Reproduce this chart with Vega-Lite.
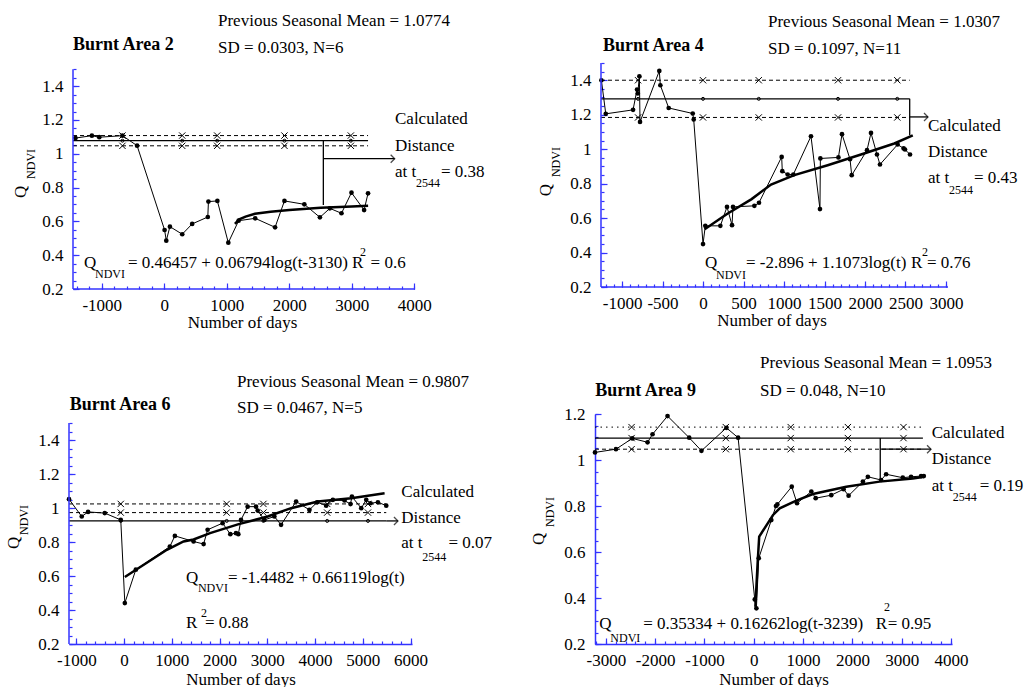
{
"$schema": "https://vega.github.io/schema/vega-lite/v6.json",
"padding": {"left": 4, "top": 11, "right": 0, "bottom": 0},
"config": {
 "view": {"stroke": null},
 "font": "Liberation Serif",
 "axis": {"labelFont": "Liberation Serif", "labelFontSize": 17, "labelColor": "#000", "titleFont": "Liberation Serif", "titleFontSize": 17, "titleFontWeight": "normal", "titleColor": "#000", "domainColor": "#3333ff", "tickColor": "#3333ff", "domainWidth": 1.5, "tickWidth": 1.2, "grid": false, "labelFlush": false, "labelOverlap": false},
 "text": {"font": "Liberation Serif", "fontSize": 17, "color": "#000"}
},
"datasets": {
 "p1obs": [{"t":-1420,"q":1.093},{"t":-1158,"q":1.107},{"t":-1040,"q":1.098},{"t":-669,"q":1.107},{"t":-435,"q":1.048},{"t":5,"q":0.549},{"t":32,"q":0.486},{"t":90,"q":0.569},{"t":287,"q":0.524},{"t":446,"q":0.585},{"t":696,"q":0.626},{"t":706,"q":0.717},{"t":849,"q":0.721},{"t":1024,"q":0.474},{"t":1189,"q":0.604},{"t":1454,"q":0.618},{"t":1772,"q":0.565},{"t":1922,"q":0.721},{"t":2240,"q":0.701},{"t":2489,"q":0.624},{"t":2648,"q":0.677},{"t":2834,"q":0.648},{"t":2994,"q":0.770},{"t":3196,"q":0.667},{"t":3259,"q":0.766}],
 "p1fit": [{"t":1130,"q":0.585},{"t":1200,"q":0.612},{"t":1300,"q":0.628},{"t":1450,"q":0.645},{"t":1700,"q":0.657},{"t":2000,"q":0.667},{"t":2500,"q":0.680},{"t":3000,"q":0.688},{"t":3260,"q":0.692}],
 "p1ref": [{"kind":"upper","t0":-1460,"t1":3259,"q0":1.1077,"q1":1.1077},{"kind":"mean","t0":-1460,"t1":3259,"q0":1.0774,"q1":1.0774},{"kind":"lower","t0":-1460,"t1":3259,"q0":1.0471,"q1":1.0471},{"kind":"distance","t0":2544,"t1":2544,"q0":1.0774,"q1":0.697},{"kind":"arrow","t0":2544,"t1":3685,"q0":0.971,"q1":0.971}],
 "p1mark": [{"t":-669,"q":1.1077,"kind":"cross"},{"t":-669,"q":1.0471,"kind":"cross"},{"t":-669,"q":1.0774,"kind":"dot"},{"t":287,"q":1.1077,"kind":"cross"},{"t":287,"q":1.0471,"kind":"cross"},{"t":287,"q":1.0774,"kind":"dot"},{"t":846,"q":1.1077,"kind":"cross"},{"t":846,"q":1.0471,"kind":"cross"},{"t":846,"q":1.0774,"kind":"dot"},{"t":1922,"q":1.1077,"kind":"cross"},{"t":1922,"q":1.0471,"kind":"cross"},{"t":1922,"q":1.0774,"kind":"dot"},{"t":2984,"q":1.1077,"kind":"cross"},{"t":2984,"q":1.0471,"kind":"cross"},{"t":2984,"q":1.0774,"kind":"dot"}],
 "p2obs": [{"t":-1255,"q":1.40},{"t":-1201,"q":1.205},{"t":-864,"q":1.228},{"t":-815,"q":1.346},{"t":-806,"q":1.323},{"t":-786,"q":1.423},{"t":-778,"q":1.158},{"t":-540,"q":1.454},{"t":-527,"q":1.371},{"t":-424,"q":1.239},{"t":-127,"q":1.207},{"t":-115,"q":1.172},{"t":0,"q":0.449},{"t":28,"q":0.555},{"t":214,"q":0.555},{"t":296,"q":0.665},{"t":358,"q":0.559},{"t":370,"q":0.665},{"t":634,"q":0.671},{"t":691,"q":0.689},{"t":971,"q":0.955},{"t":979,"q":0.872},{"t":1045,"q":0.853},{"t":1115,"q":0.853},{"t":1333,"q":1.075},{"t":1444,"q":0.652},{"t":1449,"q":0.946},{"t":1672,"q":0.952},{"t":1716,"q":1.087},{"t":1815,"q":0.942},{"t":1836,"q":0.849},{"t":2025,"q":0.994},{"t":2074,"q":1.094},{"t":2148,"q":0.969},{"t":2185,"q":0.911},{"t":2403,"q":1.027},{"t":2477,"q":1.004},{"t":2494,"q":0.998},{"t":2556,"q":0.969}],
 "p2fit": [{"t":20,"q":0.535},{"t":300,"q":0.625},{"t":600,"q":0.71},{"t":840,"q":0.795},{"t":1127,"q":0.849},{"t":1539,"q":0.907},{"t":1951,"q":0.969},{"t":2362,"q":1.033},{"t":2590,"q":1.08}],
 "p2ref": [{"kind":"upper","t0":-1260,"t1":2552,"q0":1.40,"q1":1.40},{"kind":"mean","t0":-1260,"t1":2552,"q0":1.292,"q1":1.292},{"kind":"lower","t0":-1260,"t1":2552,"q0":1.184,"q1":1.184},{"kind":"distance","t0":2552,"t1":2552,"q0":1.292,"q1":1.08},{"kind":"arrow","t0":2552,"t1":2778,"q0":1.187,"q1":1.187}],
 "p2mark": [{"t":-802,"q":1.40,"kind":"cross"},{"t":-802,"q":1.184,"kind":"cross"},{"t":-802,"q":1.292,"kind":"dot"},{"t":0,"q":1.40,"kind":"cross"},{"t":0,"q":1.184,"kind":"cross"},{"t":0,"q":1.292,"kind":"dot"},{"t":688,"q":1.40,"kind":"cross"},{"t":688,"q":1.184,"kind":"cross"},{"t":688,"q":1.292,"kind":"dot"},{"t":1667,"q":1.40,"kind":"cross"},{"t":1667,"q":1.184,"kind":"cross"},{"t":1667,"q":1.292,"kind":"dot"},{"t":2399,"q":1.40,"kind":"cross"},{"t":2399,"q":1.184,"kind":"cross"},{"t":2399,"q":1.292,"kind":"dot"}],
 "p3obs": [{"t":-1154,"q":1.052},{"t":-887,"q":0.95},{"t":-755,"q":0.977},{"t":-405,"q":0.970},{"t":-70,"q":0.930},{"t":15,"q":0.441},{"t":245,"q":0.637},{"t":958,"q":0.773},{"t":1063,"q":0.836},{"t":1455,"q":0.803},{"t":1665,"q":0.788},{"t":1749,"q":0.872},{"t":2063,"q":0.911},{"t":2224,"q":0.846},{"t":2343,"q":0.852},{"t":2392,"q":0.846},{"t":2448,"q":0.930},{"t":2587,"q":1.008},{"t":2763,"q":1.008},{"t":2797,"q":0.985},{"t":2937,"q":0.930},{"t":3147,"q":0.950},{"t":3287,"q":0.901},{"t":3602,"q":1.038},{"t":3881,"q":0.989},{"t":4043,"q":1.034},{"t":4232,"q":1.014},{"t":4372,"q":1.048},{"t":4615,"q":1.044},{"t":4741,"q":1.023},{"t":4771,"q":1.067},{"t":4966,"q":0.999},{"t":5071,"q":1.048},{"t":5160,"q":1.028},{"t":5315,"q":1.034},{"t":5490,"q":1.014}],
 "p3fit": [{"t":15,"q":0.594},{"t":896,"q":0.754},{"t":1245,"q":0.803},{"t":1455,"q":0.815},{"t":1800,"q":0.852},{"t":2400,"q":0.905},{"t":3007,"q":0.95},{"t":3496,"q":0.999},{"t":4056,"q":1.038},{"t":4756,"q":1.058},{"t":5455,"q":1.087}],
 "p3ref": [{"kind":"upper","t0":-1154,"t1":5490,"q0":1.024,"q1":1.024},{"kind":"mean","t0":-1154,"t1":5490,"q0":0.973,"q1":0.973},{"kind":"lower","t0":-1154,"t1":5490,"q0":0.924,"q1":0.924},{"kind":"arrow","t0":5490,"t1":5735,"q0":0.924,"q1":0.924}],
 "p3mark": [{"t":-70,"q":1.024,"kind":"cross"},{"t":-70,"q":0.973,"kind":"cross"},{"t":-70,"q":0.924,"kind":"dot"},{"t":2148,"q":1.024,"kind":"cross"},{"t":2148,"q":0.973,"kind":"cross"},{"t":2148,"q":0.924,"kind":"dot"},{"t":2917,"q":1.024,"kind":"cross"},{"t":2917,"q":0.973,"kind":"cross"},{"t":2917,"q":0.924,"kind":"dot"},{"t":4253,"q":1.024,"kind":"cross"},{"t":4253,"q":0.973,"kind":"cross"},{"t":4253,"q":0.924,"kind":"dot"},{"t":5107,"q":1.024,"kind":"cross"},{"t":5107,"q":0.973,"kind":"cross"},{"t":5107,"q":0.924,"kind":"dot"}],
 "p4obs": [{"t":-3220,"q":1.033},{"t":-2795,"q":1.047},{"t":-2464,"q":1.094},{"t":-2154,"q":1.077},{"t":-2053,"q":1.112},{"t":-1749,"q":1.191},{"t":-1310,"q":1.097},{"t":-1061,"q":1.040},{"t":-555,"q":1.140},{"t":-318,"q":1.097},{"t":20,"q":0.394},{"t":53,"q":0.355},{"t":101,"q":0.573},{"t":356,"q":0.739},{"t":450,"q":0.80},{"t":478,"q":0.807},{"t":770,"q":0.884},{"t":877,"q":0.812},{"t":1167,"q":0.863},{"t":1255,"q":0.834},{"t":1571,"q":0.847},{"t":1822,"q":0.873},{"t":1923,"q":0.845},{"t":2213,"q":0.906},{"t":2314,"q":0.927},{"t":2583,"q":0.913},{"t":2684,"q":0.938},{"t":3022,"q":0.923},{"t":3190,"q":0.927},{"t":3393,"q":0.930},{"t":3448,"q":0.930}],
 "p4fit": [{"t":32,"q":0.362},{"t":80,"q":0.56},{"t":110,"q":0.667},{"t":391,"q":0.761},{"t":526,"q":0.79},{"t":862,"q":0.823},{"t":1200,"q":0.852},{"t":1875,"q":0.884},{"t":2550,"q":0.906},{"t":3225,"q":0.92},{"t":3462,"q":0.927}],
 "p4ref": [{"kind":"upper","t0":-3220,"t1":3430,"q0":1.143,"q1":1.143},{"kind":"mean","t0":-3220,"t1":3430,"q0":1.0953,"q1":1.0953},{"kind":"lower","t0":-3220,"t1":3430,"q0":1.047,"q1":1.047},{"kind":"distance","t0":2565,"t1":2565,"q0":1.0953,"q1":0.920},{"kind":"arrow","t0":2565,"t1":3595,"q0":1.047,"q1":1.047}],
 "p4mark": [{"t":-2478,"q":1.143,"kind":"cross"},{"t":-2478,"q":1.0953,"kind":"cross"},{"t":-2478,"q":1.047,"kind":"cross"},{"t":-567,"q":1.143,"kind":"cross"},{"t":-567,"q":1.0953,"kind":"cross"},{"t":-567,"q":1.047,"kind":"cross"},{"t":749,"q":1.143,"kind":"cross"},{"t":749,"q":1.0953,"kind":"cross"},{"t":749,"q":1.047,"kind":"cross"},{"t":1909,"q":1.143,"kind":"cross"},{"t":1909,"q":1.0953,"kind":"cross"},{"t":1909,"q":1.047,"kind":"cross"},{"t":3036,"q":1.143,"kind":"cross"},{"t":3036,"q":1.0953,"kind":"cross"},{"t":3036,"q":1.047,"kind":"cross"}],
 "one": [{}]
},
"columns": 2,
"spacing": {"row": 125, "column": 180},
"bounds": "flush",
"concat": [
 {
  "width": 346, "height": 226,
  "resolve": {"axis": {"x": "independent", "y": "independent"}},
  "layer": [
  {"layer": [
   {"data": {"name": "p1obs"}, "mark": {"type": "line", "strokeWidth": 1, "color": "#000", "point": {"filled": true, "size": 22, "color": "#000"}},
    "encoding": {
     "x": {"field": "t", "type": "quantitative", "scale": {"domain": [-1524, 4010], "nice": false, "zero": false},
      "axis": {"orient": "bottom", "title": "Number of days", "domain": false, "tickCount": 200, "values": [-1000,0,1000,2000,3000,4000], "labelExpr": "'' + datum.value", "tickSize": -6, "labelPadding": 14, "titlePadding": 1}},
     "y": {"field": "q", "type": "quantitative", "scale": {"domain": [0.2, 1.537], "nice": false, "zero": false},
      "axis": {"orient": "left", "title": null, "domain": false, "offset": -4, "tickCount": 200, "values": [0.2,0.4,0.6,0.8,1,1.2,1.4], "labelExpr": "'' + datum.value", "tickSize": -6, "labelPadding": 16}}
    }},
   {"data": {"name": "p1fit"}, "mark": {"type": "line", "strokeWidth": 2.5, "color": "#000"}, "encoding": {"x": {"field": "t", "type": "quantitative"}, "y": {"field": "q", "type": "quantitative"}}},
   {"data": {"name": "p1ref"}, "transform": [{"filter": "datum.kind == 'upper' || datum.kind == 'lower'"}], "mark": {"type": "rule", "strokeDash": [4, 3], "strokeWidth": 1, "color": "#000"}, "encoding": {"x": {"field": "t0", "type": "quantitative"}, "x2": {"field": "t1"}, "y": {"field": "q0", "type": "quantitative"}, "y2": {"field": "q1"}}},
   {"data": {"name": "p1ref"}, "transform": [{"filter": "datum.kind == 'mean' || datum.kind == 'distance' || datum.kind == 'arrow'"}], "mark": {"type": "rule", "strokeWidth": 1.3, "color": "#000"}, "encoding": {"x": {"field": "t0", "type": "quantitative"}, "x2": {"field": "t1"}, "y": {"field": "q0", "type": "quantitative"}, "y2": {"field": "q1"}}},
   {"data": {"name": "p1ref"}, "transform": [{"filter": "datum.kind == 'arrow'"}], "mark": {"type": "point", "shape": "M-1,-1L0,0L-1,1", "filled": false, "size": 64, "strokeWidth": 1.3, "color": "#000"}, "encoding": {"x": {"field": "t1", "type": "quantitative"}, "y": {"field": "q1", "type": "quantitative"}}},
   {"data": {"name": "p1mark"}, "transform": [{"filter": "datum.kind == 'cross'"}], "mark": {"type": "point", "shape": "M-1,-1L1,1M-1,1L1,-1", "filled": false, "size": 40, "strokeWidth": 1, "color": "#000", "opacity": 1}, "encoding": {"x": {"field": "t", "type": "quantitative"}, "y": {"field": "q", "type": "quantitative"}}},
   {"data": {"name": "p1mark"}, "transform": [{"filter": "datum.kind == 'dot'"}], "mark": {"type": "point", "shape": "circle", "filled": false, "size": 9, "strokeWidth": 1, "color": "#000", "opacity": 1}, "encoding": {"x": {"field": "t", "type": "quantitative"}, "y": {"field": "q", "type": "quantitative"}}},
   {"data": {"name": "one"}, "mark": {"type": "rule", "color": "#3333ff", "strokeWidth": 1.5}, "encoding": {"x": {"datum": -1460}, "y": {"datum": 0.2}, "y2": {"datum": 1.5}}},
   {"data": {"name": "one"}, "mark": {"type": "rule", "color": "#3333ff", "strokeWidth": 1.5}, "encoding": {"x": {"datum": -1460}, "x2": {"datum": 4010}, "y": {"datum": 0.2}}},
   {"data": {"name": "one"}, "mark": {"type": "text", "text": "Burnt Area 2", "align": "left", "baseline": "middle", "fontSize": 18, "fontWeight": "bold"}, "encoding": {"x": {"datum": -1460}, "y": {"datum": 1.644}}},
   {"data": {"name": "one"}, "mark": {"type": "text", "text": "Previous Seasonal Mean = 1.0774", "align": "left", "baseline": "middle"}, "encoding": {"x": {"datum": 859}, "y": {"datum": 1.786}}},
   {"data": {"name": "one"}, "mark": {"type": "text", "text": "SD = 0.0303, N=6", "align": "left", "baseline": "middle"}, "encoding": {"x": {"datum": 859}, "y": {"datum": 1.626}}},
   {"data": {"name": "one"}, "mark": {"type": "text", "text": "Calculated", "align": "left", "baseline": "middle"}, "encoding": {"x": {"datum": 3690}, "y": {"datum": 1.206}}},
   {"data": {"name": "one"}, "mark": {"type": "text", "text": "Distance", "align": "left", "baseline": "middle"}, "encoding": {"x": {"datum": 3690}, "y": {"datum": 1.046}}},
   {"data": {"name": "one"}, "mark": {"type": "text", "text": "at t", "align": "left", "baseline": "middle"}, "encoding": {"x": {"datum": 3690}, "y": {"datum": 0.892}}},
   {"data": {"name": "one"}, "mark": {"type": "text", "text": "2544", "align": "left", "baseline": "middle", "fontSize": 12}, "encoding": {"x": {"datum": 4026}, "y": {"datum": 0.827}}},
   {"data": {"name": "one"}, "mark": {"type": "text", "text": "= 0.38", "align": "left", "baseline": "middle"}, "encoding": {"x": {"datum": 4426}, "y": {"datum": 0.892}}},
   {"data": {"name": "one"}, "mark": {"type": "text", "text": "Q", "align": "left", "baseline": "middle"}, "encoding": {"x": {"datum": -1284}, "y": {"datum": 0.354}}},
   {"data": {"name": "one"}, "mark": {"type": "text", "text": "NDVI", "align": "left", "baseline": "middle", "fontSize": 12}, "encoding": {"x": {"datum": -1108}, "y": {"datum": 0.289}}},
   {"data": {"name": "one"}, "mark": {"type": "text", "text": "= 0.46457 + 0.06794log(t-3130)", "align": "left", "baseline": "middle"}, "encoding": {"x": {"datum": -580}, "y": {"datum": 0.354}}},
   {"data": {"name": "one"}, "mark": {"type": "text", "text": "R", "align": "left", "baseline": "middle"}, "encoding": {"x": {"datum": 3003}, "y": {"datum": 0.354}}},
   {"data": {"name": "one"}, "mark": {"type": "text", "text": "2", "align": "left", "baseline": "middle", "fontSize": 12}, "encoding": {"x": {"datum": 3130}, "y": {"datum": 0.42}}},
   {"data": {"name": "one"}, "mark": {"type": "text", "text": "= 0.6", "align": "left", "baseline": "middle"}, "encoding": {"x": {"datum": 3300}, "y": {"datum": 0.354}}},
   {"data": {"name": "one"}, "mark": {"type": "text", "text": "Q", "align": "center", "baseline": "middle", "angle": 270}, "encoding": {"x": {"datum": -2292}, "y": {"datum": 0.774}}},
   {"data": {"name": "one"}, "mark": {"type": "text", "text": "NDVI", "align": "center", "baseline": "middle", "angle": 270, "fontSize": 12}, "encoding": {"x": {"datum": -2132}, "y": {"datum": 0.940}}}
  ]},
  {"data": {"name": "one"}, "mark": {"type": "point", "opacity": 0},
   "encoding": {
    "x": {"datum": 0, "type": "quantitative", "axis": {"orient": "bottom", "title": null, "labels": false, "domain": false, "tickSize": -3, "tickCount": 200, "values": [-1400,-1200,-1000,-800,-600,-400,-200,0,200,400,600,800,1000,1200,1400,1600,1800,2000,2200,2400,2600,2800,3000,3200,3400,3600,3800,4000]}},
    "y": {"datum": 0.5, "type": "quantitative", "axis": {"orient": "left", "title": null, "labels": false, "domain": false, "tickSize": -3, "tickCount": 200, "offset": -4, "values": [0.2,0.25,0.3,0.35,0.4,0.45,0.5,0.55,0.6,0.65,0.7,0.75,0.8,0.85,0.9,0.95,1,1.05,1.1,1.15,1.2,1.25,1.3,1.35,1.4,1.45,1.5]}}
   }}
  ]
 },
 {
  "width": 353, "height": 224,
  "resolve": {"axis": {"x": "independent", "y": "independent"}},
  "layer": [
  {"layer": [
   {"data": {"name": "p2obs"}, "mark": {"type": "line", "strokeWidth": 1, "color": "#000", "point": {"filled": true, "size": 22, "color": "#000"}},
    "encoding": {
     "x": {"field": "t", "type": "quantitative", "scale": {"domain": [-1334, 3025], "nice": false, "zero": false},
      "axis": {"orient": "bottom", "title": "Number of days", "domain": false, "tickCount": 200, "values": [-1000,-500,0,500,1000,1500,2000,2500,3000], "labelExpr": "'' + datum.value", "tickSize": -6, "labelPadding": 14, "titlePadding": 1}},
     "y": {"field": "q", "type": "quantitative", "scale": {"domain": [0.2, 1.5], "nice": false, "zero": false},
      "axis": {"orient": "left", "title": null, "domain": false, "offset": -6, "tickCount": 200, "values": [0.2,0.4,0.6,0.8,1,1.2,1.4], "labelExpr": "'' + datum.value", "tickSize": -6, "labelPadding": 16}}
    }},
   {"data": {"name": "p2fit"}, "mark": {"type": "line", "strokeWidth": 2.5, "color": "#000"}, "encoding": {"x": {"field": "t", "type": "quantitative"}, "y": {"field": "q", "type": "quantitative"}}},
   {"data": {"name": "p2ref"}, "transform": [{"filter": "datum.kind == 'upper' || datum.kind == 'lower'"}], "mark": {"type": "rule", "strokeDash": [4, 3], "strokeWidth": 1, "color": "#000"}, "encoding": {"x": {"field": "t0", "type": "quantitative"}, "x2": {"field": "t1"}, "y": {"field": "q0", "type": "quantitative"}, "y2": {"field": "q1"}}},
   {"data": {"name": "p2ref"}, "transform": [{"filter": "datum.kind == 'mean' || datum.kind == 'distance' || datum.kind == 'arrow'"}], "mark": {"type": "rule", "strokeWidth": 1.3, "color": "#000"}, "encoding": {"x": {"field": "t0", "type": "quantitative"}, "x2": {"field": "t1"}, "y": {"field": "q0", "type": "quantitative"}, "y2": {"field": "q1"}}},
   {"data": {"name": "p2ref"}, "transform": [{"filter": "datum.kind == 'arrow'"}], "mark": {"type": "point", "shape": "M-1,-1L0,0L-1,1", "filled": false, "size": 64, "strokeWidth": 1.3, "color": "#000"}, "encoding": {"x": {"field": "t1", "type": "quantitative"}, "y": {"field": "q1", "type": "quantitative"}}},
   {"data": {"name": "p2mark"}, "transform": [{"filter": "datum.kind == 'cross'"}], "mark": {"type": "point", "shape": "M-1,-1L1,1M-1,1L1,-1", "filled": false, "size": 40, "strokeWidth": 1, "color": "#000", "opacity": 1}, "encoding": {"x": {"field": "t", "type": "quantitative"}, "y": {"field": "q", "type": "quantitative"}}},
   {"data": {"name": "p2mark"}, "transform": [{"filter": "datum.kind == 'dot'"}], "mark": {"type": "point", "shape": "circle", "filled": false, "size": 9, "strokeWidth": 1, "color": "#000", "opacity": 1}, "encoding": {"x": {"field": "t", "type": "quantitative"}, "y": {"field": "q", "type": "quantitative"}}},
   {"data": {"name": "one"}, "mark": {"type": "rule", "color": "#3333ff", "strokeWidth": 1.5}, "encoding": {"x": {"datum": -1260}, "y": {"datum": 0.2}, "y2": {"datum": 1.5}}},
   {"data": {"name": "one"}, "mark": {"type": "rule", "color": "#3333ff", "strokeWidth": 1.5}, "encoding": {"x": {"datum": -1260}, "x2": {"datum": 3025}, "y": {"datum": 0.2}}},
   {"data": {"name": "one"}, "mark": {"type": "text", "text": "Burnt Area 4", "align": "left", "baseline": "middle", "fontSize": 18, "fontWeight": "bold"}, "encoding": {"x": {"datum": -1235}, "y": {"datum": 1.597}}},
   {"data": {"name": "one"}, "mark": {"type": "text", "text": "Previous Seasonal Mean = 1.0307", "align": "left", "baseline": "middle"}, "encoding": {"x": {"datum": 802}, "y": {"datum": 1.736}}},
   {"data": {"name": "one"}, "mark": {"type": "text", "text": "SD = 0.1097, N=11", "align": "left", "baseline": "middle"}, "encoding": {"x": {"datum": 802}, "y": {"datum": 1.580}}},
   {"data": {"name": "one"}, "mark": {"type": "text", "text": "Calculated", "align": "left", "baseline": "middle"}, "encoding": {"x": {"datum": 2778}, "y": {"datum": 1.133}}},
   {"data": {"name": "one"}, "mark": {"type": "text", "text": "Distance", "align": "left", "baseline": "middle"}, "encoding": {"x": {"datum": 2778}, "y": {"datum": 0.983}}},
   {"data": {"name": "one"}, "mark": {"type": "text", "text": "at t", "align": "left", "baseline": "middle"}, "encoding": {"x": {"datum": 2778}, "y": {"datum": 0.832}}},
   {"data": {"name": "one"}, "mark": {"type": "text", "text": "2544", "align": "left", "baseline": "middle", "fontSize": 12}, "encoding": {"x": {"datum": 3037}, "y": {"datum": 0.762}}},
   {"data": {"name": "one"}, "mark": {"type": "text", "text": "= 0.43", "align": "left", "baseline": "middle"}, "encoding": {"x": {"datum": 3346}, "y": {"datum": 0.832}}},
   {"data": {"name": "one"}, "mark": {"type": "text", "text": "Q", "align": "left", "baseline": "middle"}, "encoding": {"x": {"datum": 25}, "y": {"datum": 0.339}}},
   {"data": {"name": "one"}, "mark": {"type": "text", "text": "NDVI", "align": "left", "baseline": "middle", "fontSize": 12}, "encoding": {"x": {"datum": 160}, "y": {"datum": 0.270}}},
   {"data": {"name": "one"}, "mark": {"type": "text", "text": "= -2.896 + 1.1073log(t)", "align": "left", "baseline": "middle"}, "encoding": {"x": {"datum": 531}, "y": {"datum": 0.339}}},
   {"data": {"name": "one"}, "mark": {"type": "text", "text": "R", "align": "left", "baseline": "middle"}, "encoding": {"x": {"datum": 2568}, "y": {"datum": 0.339}}},
   {"data": {"name": "one"}, "mark": {"type": "text", "text": "2", "align": "left", "baseline": "middle", "fontSize": 12}, "encoding": {"x": {"datum": 2704}, "y": {"datum": 0.403}}},
   {"data": {"name": "one"}, "mark": {"type": "text", "text": "= 0.76", "align": "left", "baseline": "middle"}, "encoding": {"x": {"datum": 2765}, "y": {"datum": 0.339}}},
   {"data": {"name": "one"}, "mark": {"type": "text", "text": "Q", "align": "center", "baseline": "middle", "angle": 270}, "encoding": {"x": {"datum": -1938}, "y": {"datum": 0.762}}},
   {"data": {"name": "one"}, "mark": {"type": "text", "text": "NDVI", "align": "center", "baseline": "middle", "angle": 270, "fontSize": 12}, "encoding": {"x": {"datum": -1815}, "y": {"datum": 0.925}}}
  ]},
  {"data": {"name": "one"}, "mark": {"type": "point", "opacity": 0},
   "encoding": {
    "x": {"datum": 0, "type": "quantitative", "axis": {"orient": "bottom", "title": null, "labels": false, "domain": false, "tickSize": -3, "tickCount": 200, "values": [-1200,-1100,-1000,-900,-800,-700,-600,-500,-400,-300,-200,-100,0,100,200,300,400,500,600,700,800,900,1000,1100,1200,1300,1400,1500,1600,1700,1800,1900,2000,2100,2200,2300,2400,2500,2600,2700,2800,2900,3000]}},
    "y": {"datum": 0.5, "type": "quantitative", "axis": {"orient": "left", "title": null, "labels": false, "domain": false, "tickSize": -3, "tickCount": 200, "offset": -6, "values": [0.2,0.25,0.3,0.35,0.4,0.45,0.5,0.55,0.6,0.65,0.7,0.75,0.8,0.85,0.9,0.95,1,1.05,1.1,1.15,1.2,1.25,1.3,1.35,1.4,1.45,1.5]}}
   }}
  ]
 },
 {
  "width": 343, "height": 230,
  "resolve": {"axis": {"x": "independent", "y": "independent"}},
  "layer": [
  {"layer": [
   {"data": {"name": "p3obs"}, "mark": {"type": "line", "strokeWidth": 1, "color": "#000", "point": {"filled": true, "size": 22, "color": "#000"}},
    "encoding": {
     "x": {"field": "t", "type": "quantitative", "scale": {"domain": [-1154, 6029], "nice": false, "zero": false},
      "axis": {"orient": "bottom", "title": "Number of days", "tickCount": 200, "values": [-1000,0,1000,2000,3000,4000,5000,6000], "labelExpr": "'' + datum.value", "tickSize": -6, "labelPadding": 14, "titlePadding": 3}},
     "y": {"field": "q", "type": "quantitative", "scale": {"domain": [0.2, 1.553], "nice": false, "zero": false},
      "axis": {"orient": "left", "title": null, "domain": false, "tickCount": 200, "values": [0.2,0.4,0.6,0.8,1,1.2,1.4], "labelExpr": "'' + datum.value", "tickSize": -6, "labelPadding": 16}}
    }},
   {"data": {"name": "p3fit"}, "mark": {"type": "line", "strokeWidth": 2.5, "color": "#000"}, "encoding": {"x": {"field": "t", "type": "quantitative"}, "y": {"field": "q", "type": "quantitative"}}},
   {"data": {"name": "p3ref"}, "transform": [{"filter": "datum.kind == 'upper' || datum.kind == 'mean'"}], "mark": {"type": "rule", "strokeDash": [4, 3], "strokeWidth": 1, "color": "#000"}, "encoding": {"x": {"field": "t0", "type": "quantitative"}, "x2": {"field": "t1"}, "y": {"field": "q0", "type": "quantitative"}, "y2": {"field": "q1"}}},
   {"data": {"name": "p3ref"}, "transform": [{"filter": "datum.kind == 'lower' || datum.kind == 'arrow'"}], "mark": {"type": "rule", "strokeWidth": 1.3, "color": "#000"}, "encoding": {"x": {"field": "t0", "type": "quantitative"}, "x2": {"field": "t1"}, "y": {"field": "q0", "type": "quantitative"}, "y2": {"field": "q1"}}},
   {"data": {"name": "p3ref"}, "transform": [{"filter": "datum.kind == 'arrow'"}], "mark": {"type": "point", "shape": "M-1,-1L0,0L-1,1", "filled": false, "size": 64, "strokeWidth": 1.3, "color": "#000"}, "encoding": {"x": {"field": "t1", "type": "quantitative"}, "y": {"field": "q1", "type": "quantitative"}}},
   {"data": {"name": "p3mark"}, "transform": [{"filter": "datum.kind == 'cross'"}], "mark": {"type": "point", "shape": "M-1,-1L1,1M-1,1L1,-1", "filled": false, "size": 40, "strokeWidth": 1, "color": "#000", "opacity": 1}, "encoding": {"x": {"field": "t", "type": "quantitative"}, "y": {"field": "q", "type": "quantitative"}}},
   {"data": {"name": "p3mark"}, "transform": [{"filter": "datum.kind == 'dot'"}], "mark": {"type": "point", "shape": "circle", "filled": false, "size": 9, "strokeWidth": 1, "color": "#000", "opacity": 1}, "encoding": {"x": {"field": "t", "type": "quantitative"}, "y": {"field": "q", "type": "quantitative"}}},
   {"data": {"name": "one"}, "mark": {"type": "rule", "color": "#3333ff", "strokeWidth": 1.5}, "encoding": {"x": {"datum": -1154}, "y": {"datum": 0.2}, "y2": {"datum": 1.5}}},
   {"data": {"name": "one"}, "mark": {"type": "text", "text": "Burnt Area 6", "align": "left", "baseline": "middle", "fontSize": 18, "fontWeight": "bold"}, "encoding": {"x": {"datum": -1139}, "y": {"datum": 1.606}}},
   {"data": {"name": "one"}, "mark": {"type": "text", "text": "Previous Seasonal Mean = 0.9807", "align": "left", "baseline": "middle"}, "encoding": {"x": {"datum": 2364}, "y": {"datum": 1.741}}},
   {"data": {"name": "one"}, "mark": {"type": "text", "text": "SD = 0.0467, N=5", "align": "left", "baseline": "middle"}, "encoding": {"x": {"datum": 2364}, "y": {"datum": 1.588}}},
   {"data": {"name": "one"}, "mark": {"type": "text", "text": "Calculated", "align": "left", "baseline": "middle"}, "encoding": {"x": {"datum": 5805}, "y": {"datum": 1.095}}},
   {"data": {"name": "one"}, "mark": {"type": "text", "text": "Distance", "align": "left", "baseline": "middle"}, "encoding": {"x": {"datum": 5805}, "y": {"datum": 0.942}}},
   {"data": {"name": "one"}, "mark": {"type": "text", "text": "at t", "align": "left", "baseline": "middle"}, "encoding": {"x": {"datum": 5805}, "y": {"datum": 0.795}}},
   {"data": {"name": "one"}, "mark": {"type": "text", "text": "2544", "align": "left", "baseline": "middle", "fontSize": 12}, "encoding": {"x": {"datum": 6245}, "y": {"datum": 0.713}}},
   {"data": {"name": "one"}, "mark": {"type": "text", "text": "= 0.07", "align": "left", "baseline": "middle"}, "encoding": {"x": {"datum": 6791}, "y": {"datum": 0.795}}},
   {"data": {"name": "one"}, "mark": {"type": "text", "text": "Q", "align": "left", "baseline": "middle"}, "encoding": {"x": {"datum": 1294}, "y": {"datum": 0.590}}},
   {"data": {"name": "one"}, "mark": {"type": "text", "text": "NDVI", "align": "left", "baseline": "middle", "fontSize": 12}, "encoding": {"x": {"datum": 1546}, "y": {"datum": 0.531}}},
   {"data": {"name": "one"}, "mark": {"type": "text", "text": "= -1.4482 + 0.66119log(t)", "align": "left", "baseline": "middle"}, "encoding": {"x": {"datum": 2176}, "y": {"datum": 0.590}}},
   {"data": {"name": "one"}, "mark": {"type": "text", "text": "R", "align": "left", "baseline": "middle"}, "encoding": {"x": {"datum": 1294}, "y": {"datum": 0.326}}},
   {"data": {"name": "one"}, "mark": {"type": "text", "text": "2", "align": "left", "baseline": "middle", "fontSize": 12}, "encoding": {"x": {"datum": 1609}, "y": {"datum": 0.384}}},
   {"data": {"name": "one"}, "mark": {"type": "text", "text": "= 0.88", "align": "left", "baseline": "middle"}, "encoding": {"x": {"datum": 1693}, "y": {"datum": 0.326}}},
   {"data": {"name": "one"}, "mark": {"type": "text", "text": "Q", "align": "center", "baseline": "middle", "angle": 270}, "encoding": {"x": {"datum": -2314}, "y": {"datum": 0.795}}},
   {"data": {"name": "one"}, "mark": {"type": "text", "text": "NDVI", "align": "center", "baseline": "middle", "angle": 270, "fontSize": 12}, "encoding": {"x": {"datum": -2104}, "y": {"datum": 0.930}}}
  ]},
  {"data": {"name": "one"}, "mark": {"type": "point", "opacity": 0},
   "encoding": {
    "x": {"datum": 0, "type": "quantitative", "axis": {"orient": "bottom", "title": null, "labels": false, "domain": false, "tickSize": -3, "tickCount": 200, "values": [-1000,-800,-600,-400,-200,0,200,400,600,800,1000,1200,1400,1600,1800,2000,2200,2400,2600,2800,3000,3200,3400,3600,3800,4000,4200,4400,4600,4800,5000,5200,5400,5600,5800,6000]}},
    "y": {"datum": 0.5, "type": "quantitative", "axis": {"orient": "left", "title": null, "labels": false, "domain": false, "tickSize": -3, "tickCount": 200, "values": [0.2,0.25,0.3,0.35,0.4,0.45,0.5,0.55,0.6,0.65,0.7,0.75,0.8,0.85,0.9,0.95,1,1.05,1.1,1.15,1.2,1.25,1.3,1.35,1.4,1.45,1.5]}}
   }}
  ]
 },
 {
  "width": 357, "height": 230,
  "resolve": {"axis": {"x": "independent", "y": "independent"}},
  "layer": [
  {"layer": [
   {"data": {"name": "p4obs"}, "mark": {"type": "line", "strokeWidth": 1, "color": "#000", "point": {"filled": true, "size": 22, "color": "#000"}},
    "encoding": {
     "x": {"field": "t", "type": "quantitative", "scale": {"domain": [-3220, 4020], "nice": false, "zero": false},
      "axis": {"orient": "bottom", "title": "Number of days", "tickCount": 200, "values": [-3000,-2000,-1000,0,1000,2000,3000,4000], "labelExpr": "'' + datum.value", "tickSize": -6, "labelPadding": 14, "titlePadding": 3}},
     "y": {"field": "q", "type": "quantitative", "scale": {"domain": [0.2, 1.2], "nice": false, "zero": false},
      "axis": {"orient": "left", "title": null, "tickCount": 200, "values": [0.2,0.4,0.6,0.8,1,1.2], "labelExpr": "'' + datum.value", "tickSize": -6, "labelPadding": 16}}
    }},
   {"data": {"name": "p4fit"}, "mark": {"type": "line", "strokeWidth": 2.5, "color": "#000"}, "encoding": {"x": {"field": "t", "type": "quantitative"}, "y": {"field": "q", "type": "quantitative"}}},
   {"data": {"name": "p4ref"}, "transform": [{"filter": "datum.kind == 'upper'"}], "mark": {"type": "rule", "strokeDash": [1.5, 4], "strokeWidth": 1, "color": "#000"}, "encoding": {"x": {"field": "t0", "type": "quantitative"}, "x2": {"field": "t1"}, "y": {"field": "q0", "type": "quantitative"}, "y2": {"field": "q1"}}},
   {"data": {"name": "p4ref"}, "transform": [{"filter": "datum.kind == 'lower'"}], "mark": {"type": "rule", "strokeDash": [4, 3], "strokeWidth": 1, "color": "#000"}, "encoding": {"x": {"field": "t0", "type": "quantitative"}, "x2": {"field": "t1"}, "y": {"field": "q0", "type": "quantitative"}, "y2": {"field": "q1"}}},
   {"data": {"name": "p4ref"}, "transform": [{"filter": "datum.kind == 'mean' || datum.kind == 'distance' || datum.kind == 'arrow'"}], "mark": {"type": "rule", "strokeWidth": 1.3, "color": "#000"}, "encoding": {"x": {"field": "t0", "type": "quantitative"}, "x2": {"field": "t1"}, "y": {"field": "q0", "type": "quantitative"}, "y2": {"field": "q1"}}},
   {"data": {"name": "p4ref"}, "transform": [{"filter": "datum.kind == 'arrow'"}], "mark": {"type": "point", "shape": "M-1,-1L0,0L-1,1", "filled": false, "size": 64, "strokeWidth": 1.3, "color": "#000"}, "encoding": {"x": {"field": "t1", "type": "quantitative"}, "y": {"field": "q1", "type": "quantitative"}}},
   {"data": {"name": "p4mark"}, "mark": {"type": "point", "shape": "M-1,-1L1,1M-1,1L1,-1", "filled": false, "size": 40, "strokeWidth": 1, "color": "#000", "opacity": 1}, "encoding": {"x": {"field": "t", "type": "quantitative"}, "y": {"field": "q", "type": "quantitative"}}},
   {"data": {"name": "one"}, "mark": {"type": "text", "text": "Burnt Area 9", "align": "left", "baseline": "middle", "fontSize": 18, "fontWeight": "bold"}, "encoding": {"x": {"datum": -3213}, "y": {"datum": 1.300}}},
   {"data": {"name": "one"}, "mark": {"type": "text", "text": "Previous Seasonal Mean = 1.0953", "align": "left", "baseline": "middle"}, "encoding": {"x": {"datum": 128}, "y": {"datum": 1.422}}},
   {"data": {"name": "one"}, "mark": {"type": "text", "text": "SD = 0.048, N=10", "align": "left", "baseline": "middle"}, "encoding": {"x": {"datum": 128}, "y": {"datum": 1.300}}},
   {"data": {"name": "one"}, "mark": {"type": "text", "text": "Calculated", "align": "left", "baseline": "middle"}, "encoding": {"x": {"datum": 3609}, "y": {"datum": 1.117}}},
   {"data": {"name": "one"}, "mark": {"type": "text", "text": "Distance", "align": "left", "baseline": "middle"}, "encoding": {"x": {"datum": 3609}, "y": {"datum": 1.004}}},
   {"data": {"name": "one"}, "mark": {"type": "text", "text": "at t", "align": "left", "baseline": "middle"}, "encoding": {"x": {"datum": 3609}, "y": {"datum": 0.887}}},
   {"data": {"name": "one"}, "mark": {"type": "text", "text": "2544", "align": "left", "baseline": "middle", "fontSize": 12}, "encoding": {"x": {"datum": 4034}, "y": {"datum": 0.839}}},
   {"data": {"name": "one"}, "mark": {"type": "text", "text": "= 0.19", "align": "left", "baseline": "middle"}, "encoding": {"x": {"datum": 4581}, "y": {"datum": 0.887}}},
   {"data": {"name": "one"}, "mark": {"type": "text", "text": "Q", "align": "left", "baseline": "middle"}, "encoding": {"x": {"datum": -3132}, "y": {"datum": 0.287}}},
   {"data": {"name": "one"}, "mark": {"type": "text", "text": "NDVI", "align": "left", "baseline": "middle", "fontSize": 12}, "encoding": {"x": {"datum": -2909}, "y": {"datum": 0.226}}},
   {"data": {"name": "one"}, "mark": {"type": "text", "text": "= 0.35334 + 0.16262log(t-3239)", "align": "left", "baseline": "middle"}, "encoding": {"x": {"datum": -2241}, "y": {"datum": 0.287}}},
   {"data": {"name": "one"}, "mark": {"type": "text", "text": "R", "align": "left", "baseline": "middle"}, "encoding": {"x": {"datum": 2476}, "y": {"datum": 0.287}}},
   {"data": {"name": "one"}, "mark": {"type": "text", "text": "2", "align": "left", "baseline": "middle", "fontSize": 12}, "encoding": {"x": {"datum": 2640}, "y": {"datum": 0.361}}},
   {"data": {"name": "one"}, "mark": {"type": "text", "text": "= 0.95", "align": "left", "baseline": "middle"}, "encoding": {"x": {"datum": 2717}, "y": {"datum": 0.287}}},
   {"data": {"name": "one"}, "mark": {"type": "text", "text": "Q", "align": "center", "baseline": "middle", "angle": 270}, "encoding": {"x": {"datum": -4346}, "y": {"datum": 0.657}}},
   {"data": {"name": "one"}, "mark": {"type": "text", "text": "NDVI", "align": "center", "baseline": "middle", "angle": 270, "fontSize": 12}, "encoding": {"x": {"datum": -4123}, "y": {"datum": 0.774}}}
  ]},
  {"data": {"name": "one"}, "mark": {"type": "point", "opacity": 0},
   "encoding": {
    "x": {"datum": 0, "type": "quantitative", "axis": {"orient": "bottom", "title": null, "labels": false, "domain": false, "tickSize": -3, "tickCount": 200, "values": [-3200,-3000,-2800,-2600,-2400,-2200,-2000,-1800,-1600,-1400,-1200,-1000,-800,-600,-400,-200,0,200,400,600,800,1000,1200,1400,1600,1800,2000,2200,2400,2600,2800,3000,3200,3400,3600,3800,4000]}},
    "y": {"datum": 0.5, "type": "quantitative", "axis": {"orient": "left", "title": null, "labels": false, "domain": false, "tickSize": -3, "tickCount": 200, "values": [0.2,0.25,0.3,0.35,0.4,0.45,0.5,0.55,0.6,0.65,0.7,0.75,0.8,0.85,0.9,0.95,1,1.05,1.1,1.15,1.2]}}
   }}
  ]
 }
]
}
